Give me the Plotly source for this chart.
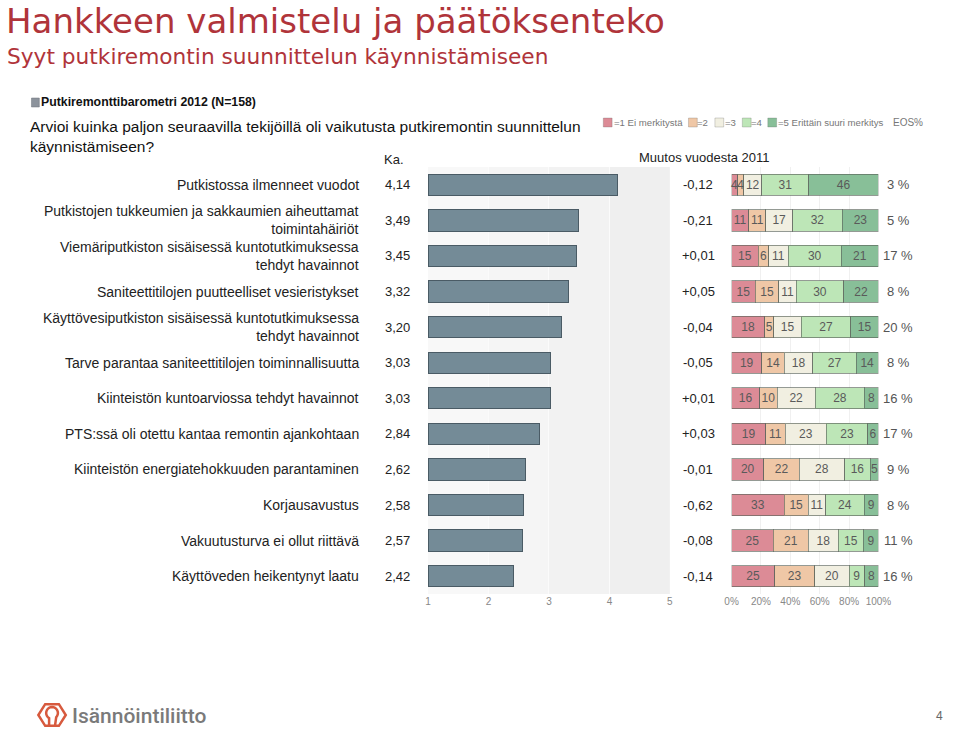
import plotly.graph_objects as go
import math

W, H = 959, 733

categories = [
    "Putkistossa ilmenneet vuodot",
    "Putkistojen tukkeumien ja sakkaumien aiheuttamat<br>toimintahäiriöt",
    "Viemäriputkiston sisäisessä kuntotutkimuksessa<br>tehdyt havainnot",
    "Saniteettitilojen puutteelliset vesieristykset",
    "Käyttövesiputkiston sisäisessä kuntotutkimuksessa<br>tehdyt havainnot",
    "Tarve parantaa saniteettitilojen toiminnallisuutta",
    "Kiinteistön kuntoarviossa tehdyt havainnot",
    "PTS:ssä oli otettu kantaa remontin ajankohtaan",
    "Kiinteistön energiatehokkuuden parantaminen",
    "Korjausavustus",
    "Vakuutusturva ei ollut riittävä",
    "Käyttöveden heikentynyt laatu",
]
means = [4.14, 3.49, 3.45, 3.32, 3.20, 3.03, 3.03, 2.84, 2.62, 2.58, 2.57, 2.42]
mean_labels = ["4,14", "3,49", "3,45", "3,32", "3,20", "3,03", "3,03", "2,84", "2,62", "2,58", "2,57", "2,42"]
changes = ["-0,12", "-0,21", "+0,01", "+0,05", "-0,04", "-0,05", "+0,01", "+0,03", "-0,01", "-0,62", "-0,08", "-0,14"]
s1 = [4, 11, 15, 15, 18, 19, 16, 19, 20, 33, 25, 25]
s2 = [4, 11, 6, 15, 5, 14, 10, 11, 22, 15, 21, 23]
s3 = [12, 17, 11, 11, 15, 18, 22, 23, 28, 11, 18, 20]
s4 = [31, 32, 30, 30, 27, 27, 28, 23, 16, 24, 15, 9]
s5 = [46, 23, 21, 22, 15, 14, 8, 6, 5, 9, 9, 8]
eos = [3, 5, 17, 8, 20, 8, 16, 17, 9, 8, 11, 16]
scale_names = ["=1 Ei merkitystä", "=2", "=3", "=4", "=5 Erittäin suuri merkitys"]
mean_ticks = [1, 2, 3, 4, 5]
pct_ticks = [0, 20, 40, 60, 80, 100]
pct_ticktext = ["0%", "20%", "40%", "60%", "80%", "100%"]

seg_colors = ["#dc8b96", "#efc7a6", "#f1efe1", "#bde6b7", "#88bf98"]
FONT = "Liberation Sans, Arial, sans-serif"

def px(x):
    return x / W

def py(y):
    return 1 - y / H

rows = list(range(len(categories)))
fig = go.Figure()

# mean bars (scale 1..5)
fig.add_trace(go.Bar(
    y=rows, x=[m - 1 for m in means], base=1, orientation="h", width=0.6,
    marker=dict(color="#748b97", line=dict(color="#4a5b65", width=1)),
    xaxis="x", yaxis="y", showlegend=False, hoverinfo="skip",
))

# stacked distribution bars (normalised to 100 %, labels show raw shares)
series = [s1, s2, s3, s4, s5]
totals = [sum(v) for v in zip(*series)]
for k, s in enumerate(series):
    fig.add_trace(go.Bar(
        y=rows, x=[v / t * 100 for v, t in zip(s, totals)], orientation="h", width=0.6,
        text=[str(v) for v in s], textposition="inside", insidetextanchor="middle",
        textangle=0, textfont=dict(size=12, color="#5a5a5a", family=FONT),
        marker=dict(color=seg_colors[k], line=dict(color="rgba(90,100,90,0.65)", width=1)),
        name=scale_names[k], xaxis="x2", yaxis="y", showlegend=False, hoverinfo="skip",
        cliponaxis=False,
    ))

shapes = []
# graded background for mean chart
bg = ["#f8f8f8", "#f5f5f5", "#f2f2f2", "#efefef"]
for i in range(4):
    shapes.append(dict(type="rect", xref="x", yref="y domain", x0=mean_ticks[i], x1=mean_ticks[i + 1],
                       y0=0, y1=1, fillcolor=bg[i], line=dict(width=0), layer="below"))

annotations = []
for i in rows:
    annotations.append(dict(x=px(362), y=i, xref="paper", yref="y", xanchor="right", yanchor="middle",
                            text=categories[i], showarrow=False, align="right",
                            font=dict(size=14, color="#222", family=FONT)))
    annotations.append(dict(x=px(399), y=i, xref="paper", yref="y", xanchor="center", yanchor="middle",
                            text=mean_labels[i], showarrow=False, font=dict(size=13, color="#222", family=FONT)))
    annotations.append(dict(x=px(706), y=i, xref="paper", yref="y", xanchor="center", yanchor="middle",
                            text=changes[i], showarrow=False, font=dict(size=13, color="#222", family=FONT)))
    annotations.append(dict(x=px(910), y=i, xref="paper", yref="y", xanchor="center", yanchor="middle",
                            text=f"{eos[i]} %", showarrow=False, font=dict(size=13, color="#555", family=FONT)))

# headers
annotations += [
    dict(x=px(-3), y=py(21), xref="paper", yref="paper", xanchor="left", yanchor="middle",
         text="Hankkeen valmistelu ja päätöksenteko", showarrow=False,
         font=dict(size=34, color="#b0343a", family="DejaVu Sans, sans-serif")),
    dict(x=px(-2), y=py(57), xref="paper", yref="paper", xanchor="left", yanchor="middle",
         text="Syyt putkiremontin suunnittelun käynnistämiseen", showarrow=False,
         font=dict(size=21.7, color="#b0343a", family="DejaVu Sans, sans-serif")),
    dict(x=px(33), y=py(102), xref="paper", yref="paper", xanchor="left", yanchor="middle",
         text="<b>Putkiremonttibarometri 2012 (N=158)</b>", showarrow=False,
         font=dict(size=12.3, color="#111", family=FONT)),
    dict(x=px(21), y=py(136), xref="paper", yref="paper", xanchor="left", yanchor="middle",
         text="Arvioi kuinka paljon seuraavilla tekijöillä oli vaikutusta putkiremontin suunnittelun<br>käynnistämiseen?",
         showarrow=False, align="left", font=dict(size=15.5, color="#111", family=FONT)),
    dict(x=px(383), y=py(160), xref="paper", yref="paper", xanchor="left", yanchor="middle",
         text="Ka.", showarrow=False, font=dict(size=13, color="#222", family=FONT)),
    dict(x=px(643), y=py(157), xref="paper", yref="paper", xanchor="left", yanchor="middle",
         text="Muutos vuodesta 2011", showarrow=False, font=dict(size=13, color="#222", family=FONT)),
    dict(x=px(903), y=py(122), xref="paper", yref="paper", xanchor="left", yanchor="middle",
         text="EOS%", showarrow=False, font=dict(size=10, color="#777", family=FONT)),
    dict(x=px(958), y=py(716), xref="paper", yref="paper", xanchor="right", yanchor="middle",
         text="4", showarrow=False, font=dict(size=12, color="#666", family=FONT)),
    dict(x=px(64), y=py(716), xref="paper", yref="paper", xanchor="left", yanchor="middle",
         text="Isännöintiliitto", showarrow=False,
         font=dict(size=21, color="#7a7a7a", family="Roboto, sans-serif", weight=500)),
]

# legend (drawn as swatches + labels)
leg_sq = [609, 696, 723, 751, 777]
leg_tx = [618, 703, 731, 758, 785]
for k in range(5):
    shapes.append(dict(type="rect", xref="paper", yref="paper", x0=px(leg_sq[k]), x1=px(leg_sq[k] + 9),
                       y0=py(127), y1=py(118), fillcolor=seg_colors[k],
                       line=dict(color="rgba(90,90,90,0.5)", width=0.5)))
    annotations.append(dict(x=px(leg_tx[k]), y=py(122), xref="paper", yref="paper", xanchor="left",
                            yanchor="middle", text=scale_names[k], showarrow=False,
                            font=dict(size=9.6, color="#777", family=FONT)))

# header icon
shapes.append(dict(type="rect", xref="paper", yref="paper", x0=px(25), x1=px(33), y0=py(107), y1=py(98),
                   fillcolor="#8c939c", line=dict(color="#6d737b", width=0.5)))

# logo icon
cx, cy, rx, ry = 46, 715, 14, 12.5
hexpts = [(cx + rx * math.cos(math.radians(a)), cy + ry * math.sin(math.radians(a))) for a in (0, 60, 120, 180, 240, 300)]
hexpath = "M " + " L ".join(f"{px(x):.5f},{py(y):.5f}" for x, y in hexpts) + " Z"
shapes.append(dict(type="path", xref="paper", yref="paper", path=hexpath,
                   line=dict(color="#d75a3e", width=2.5)))
inner = [(cx - 3, cy + ry * 0.87)]
r = 6
for a in range(120, 420, 15):
    inner.append((cx + r * math.cos(math.radians(a)), cy - 2 + r * math.sin(math.radians(a))))
inner.append((cx + 3, cy + ry * 0.87))
innerpath = "M " + " L ".join(f"{px(x):.5f},{py(y):.5f}" for x, y in inner)
shapes.append(dict(type="path", xref="paper", yref="paper", path=innerpath,
                   line=dict(color="#d75a3e", width=2.5)))

ydom = [py(594), py(167)]
fig.update_layout(
    width=W, height=H, autosize=False, margin=dict(l=0, r=0, t=0, b=0),
    paper_bgcolor="white", plot_bgcolor="white",
    barmode="stack", bargap=0.4,
    uniformtext=dict(minsize=12, mode="show"),
    font=dict(family=FONT),
    xaxis=dict(domain=[px(430), px(677)], range=[1, 5], tickvals=mean_ticks, showgrid=True,
               gridcolor="#fbfbfb", gridwidth=1, zeroline=False, showline=False, anchor="y",
               tickfont=dict(size=10, color="#888"), ticks=""),
    xaxis2=dict(domain=[px(740), px(890)], range=[0, 100.001], tickvals=pct_ticks, ticktext=pct_ticktext,
                showgrid=True, gridcolor="#f0f0f0", zeroline=False, showline=False, anchor="y",
                tickfont=dict(size=10, color="#888"), ticks=""),
    yaxis=dict(domain=ydom, range=[11.5, -0.5], showticklabels=False, showgrid=False, zeroline=False,
               showline=False),
    shapes=shapes, annotations=annotations,
)

post = "document.body.style.margin='0';document.body.style.overflow='hidden';"
fig.write_html("out.html", config={"responsive": False, "displayModeBar": False}, post_script=post)
